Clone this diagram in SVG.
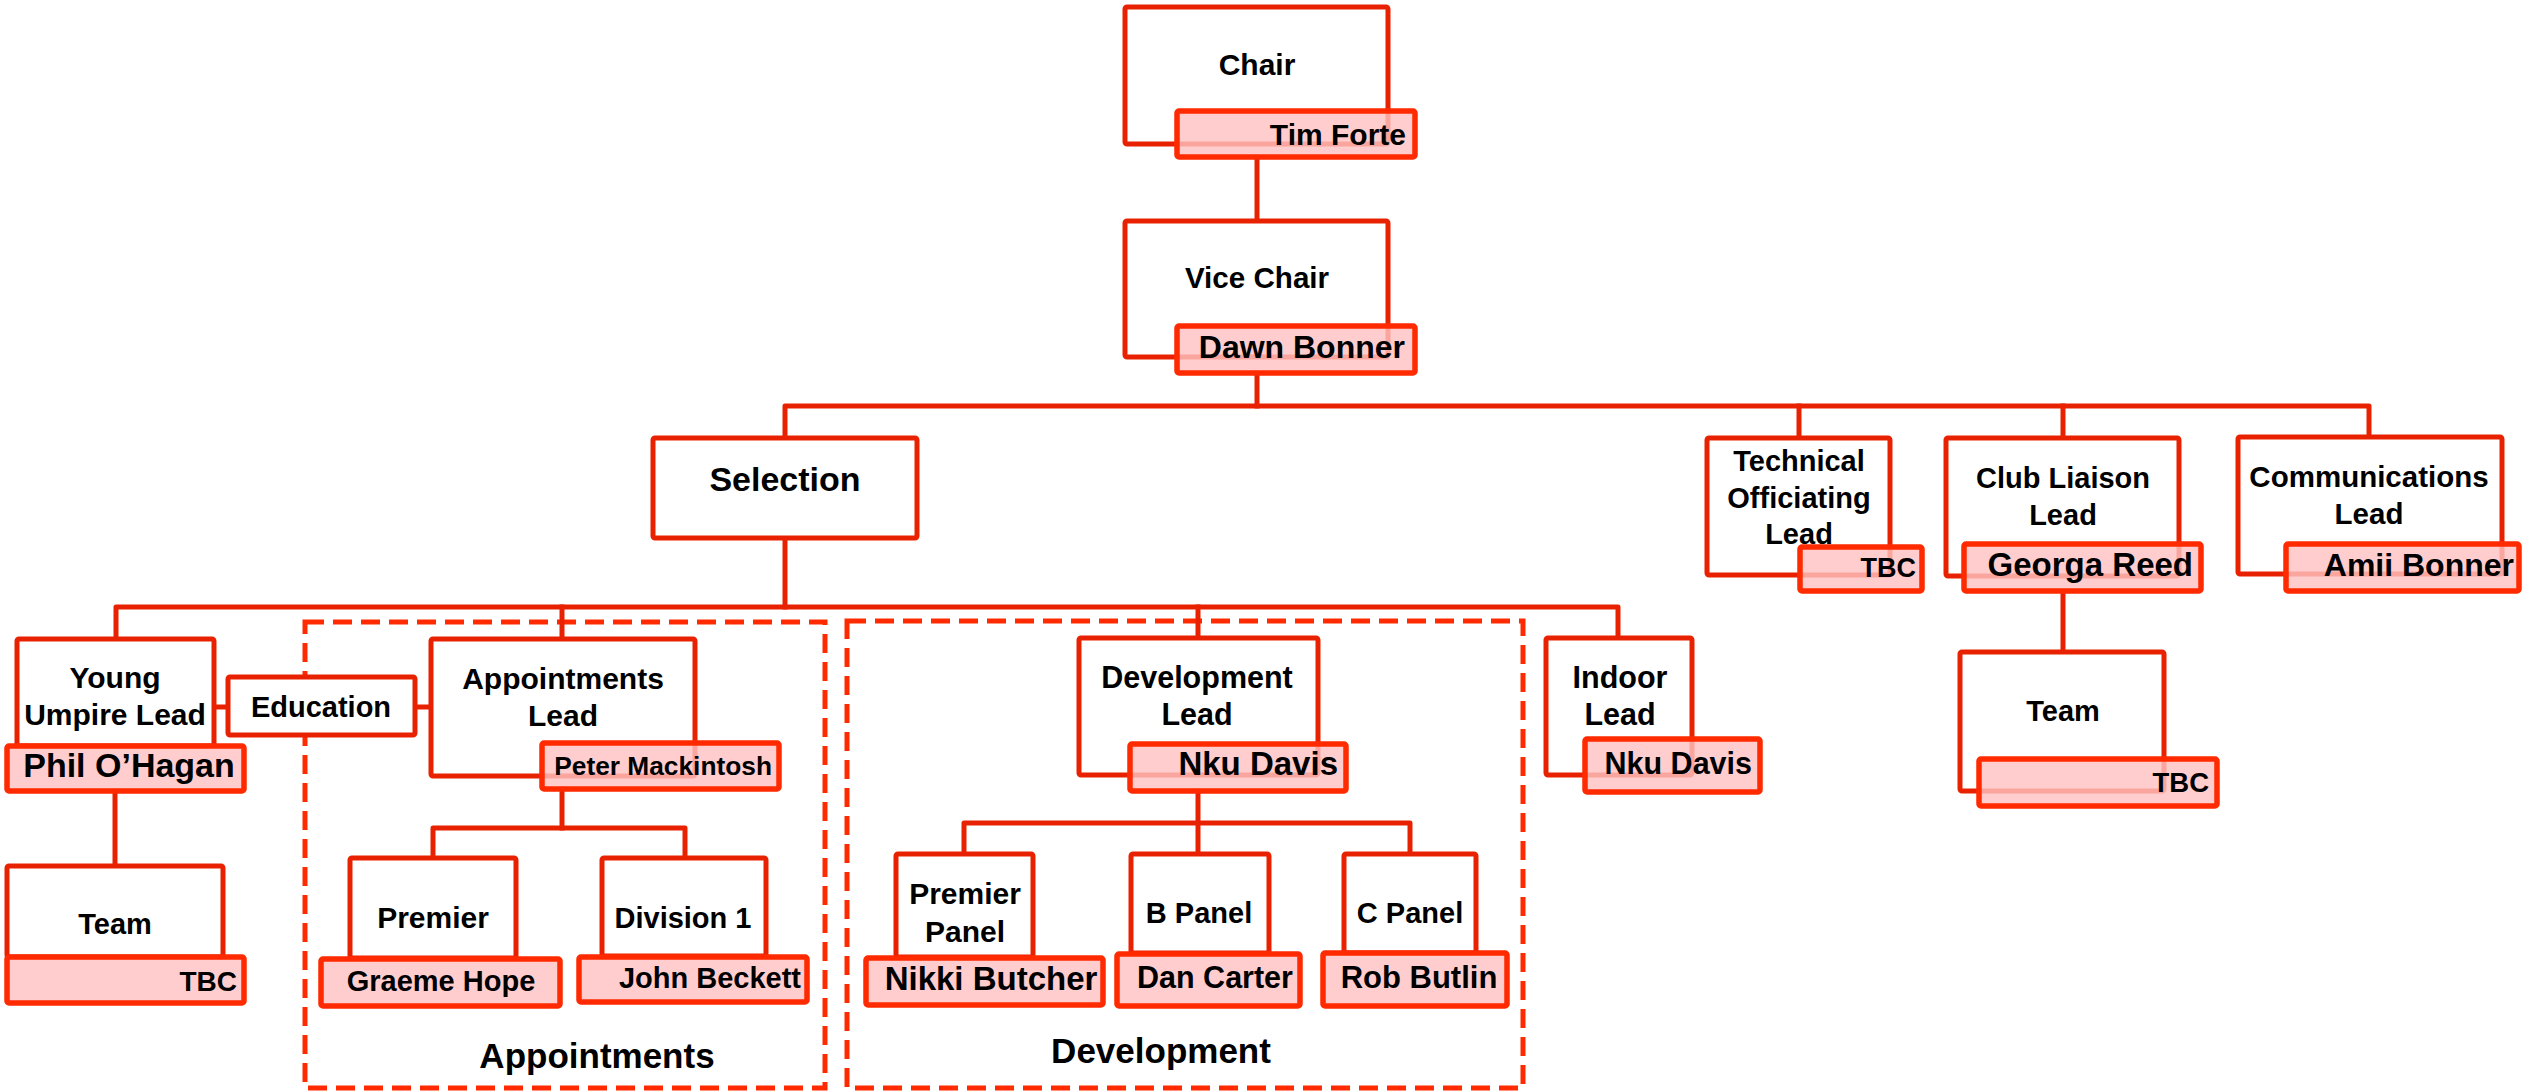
<svg xmlns="http://www.w3.org/2000/svg" width="2522" height="1092" viewBox="0 0 2522 1092">
<style>
.box{fill:#fff;stroke:#e82200;stroke-width:5;stroke-linejoin:round}
.nm{fill:#ffc2c2;fill-opacity:0.82;stroke:#ff2a00;stroke-width:5.5;stroke-linejoin:round}
.con{fill:none;stroke:#e82200;stroke-width:5;stroke-linejoin:round;stroke-linecap:square}
.grp{fill:none;stroke:#ff2a00;stroke-width:5;stroke-dasharray:19 9}
text{font-family:"Liberation Sans",Arial,sans-serif;font-weight:bold;fill:#000}
.c{text-anchor:middle}
.e{text-anchor:end}
</style>
<g id="groups">
<rect class="grp" x="305" y="622" width="520" height="466"/>
<rect class="grp" x="847" y="621" width="676" height="467"/>
<text class="c" x="597" y="1068" style="font-size:35px">Appointments</text>
<text class="c" x="1161" y="1063" style="font-size:35px">Development</text>
</g>
<g id="connectors">
<path class="con" d="M1257 157V221"/>
<path class="con" d="M1257 373V406"/>
<path class="con" d="M785 438V406H2369V437"/>
<path class="con" d="M1799 406V438M2063 406V438"/>
<path class="con" d="M785 538V607"/>
<path class="con" d="M116 639V607H1618V638"/>
<path class="con" d="M562 607V639M1198 607V638"/>
<path class="con" d="M115 791V866"/>
<path class="con" d="M214 707H228M415 707H431"/>
<path class="con" d="M2063 591V652"/>
<path class="con" d="M562 789V828"/>
<path class="con" d="M433 858V828H685V858"/>
<path class="con" d="M1198 791V854"/>
<path class="con" d="M964 854V823H1410V854"/>
</g>
<g id="chair">
<rect class="box" x="1125" y="7" width="263" height="137" rx="2"/>
<rect class="nm" x="1177" y="111" width="238" height="46" rx="2"/>
<text class="c" x="1257" y="75" style="font-size:30px">Chair</text>
<text class="e" x="1406" y="145" style="font-size:30px">Tim Forte</text>
</g>
<g id="vice-chair">
<rect class="box" x="1125" y="221" width="263" height="136" rx="2"/>
<rect class="nm" x="1177" y="326" width="238" height="47" rx="2"/>
<text class="c" x="1257" y="288" style="font-size:29.6px">Vice Chair</text>
<text class="e" x="1405" y="358" style="font-size:32px">Dawn Bonner</text>
</g>
<g id="selection">
<rect class="box" x="653" y="438" width="264" height="100" rx="2"/>
<text class="c" x="785" y="491" style="font-size:34px">Selection</text>
</g>
<g id="technical">
<rect class="box" x="1707" y="438" width="183" height="137" rx="2"/>
<rect class="nm" x="1800" y="547" width="122" height="44" rx="2"/>
<text class="c" x="1799" y="471" style="font-size:29px">Technical</text>
<text class="c" x="1799" y="508" style="font-size:29px">Officiating</text>
<text class="c" x="1799" y="544" style="font-size:29px">Lead</text>
<text class="e" x="1916" y="577" style="font-size:27px">TBC</text>
</g>
<g id="club-liaison">
<rect class="box" x="1946" y="438" width="233" height="138" rx="2"/>
<rect class="nm" x="1964" y="544" width="237" height="47" rx="2"/>
<text class="c" x="2063" y="488" style="font-size:29px">Club Liaison</text>
<text class="c" x="2063" y="525" style="font-size:29px">Lead</text>
<text class="e" x="2193" y="576" style="font-size:33px">Georga Reed</text>
</g>
<g id="communications">
<rect class="box" x="2238" y="437" width="264" height="137" rx="2"/>
<rect class="nm" x="2286" y="544" width="233" height="47" rx="2"/>
<text class="c" x="2369" y="487" style="font-size:29.5px">Communications</text>
<text class="c" x="2369" y="524" style="font-size:29.5px">Lead</text>
<text class="e" x="2514" y="576" style="font-size:32px">Amii Bonner</text>
</g>
<g id="club-team">
<rect class="box" x="1960" y="652" width="204" height="139" rx="2"/>
<rect class="nm" x="1979" y="759" width="238" height="47" rx="2"/>
<text class="c" x="2063" y="721" style="font-size:29px">Team</text>
<text class="e" x="2209" y="792" style="font-size:27.5px">TBC</text>
</g>
<g id="young-umpire">
<rect class="box" x="17" y="639" width="197" height="107" rx="2"/>
<rect class="nm" x="7" y="746" width="237" height="45" rx="2"/>
<text class="c" x="115" y="688" style="font-size:30px">Young</text>
<text class="c" x="115" y="725" style="font-size:30px">Umpire Lead</text>
<text class="c" x="129" y="777" style="font-size:34px">Phil O’Hagan</text>
</g>
<g id="education">
<rect class="box" x="228" y="677" width="187" height="58" rx="2"/>
<text class="c" x="321" y="717" style="font-size:29px">Education</text>
</g>
<g id="young-team">
<rect class="box" x="7" y="866" width="216" height="91" rx="2"/>
<rect class="nm" x="7" y="957" width="237" height="46" rx="2"/>
<text class="c" x="115" y="934" style="font-size:29px">Team</text>
<text class="e" x="237" y="991" style="font-size:28px">TBC</text>
</g>
<g id="appointments-lead">
<rect class="box" x="431" y="639" width="264" height="137" rx="2"/>
<rect class="nm" x="542" y="743" width="237" height="46" rx="2"/>
<text class="c" x="563" y="689" style="font-size:30px">Appointments</text>
<text class="c" x="563" y="726" style="font-size:30px">Lead</text>
<text class="e" x="772" y="775" style="font-size:26.3px">Peter Mackintosh</text>
</g>
<g id="premier">
<rect class="box" x="350" y="858" width="166" height="100" rx="2"/>
<rect class="nm" x="321" y="959" width="239" height="47" rx="2"/>
<text class="c" x="433" y="928" style="font-size:30px">Premier</text>
<text class="c" x="441" y="991" style="font-size:29px">Graeme Hope</text>
</g>
<g id="division-1">
<rect class="box" x="602" y="858" width="164" height="98" rx="2"/>
<rect class="nm" x="579" y="957" width="228" height="45" rx="2"/>
<text class="c" x="683" y="928" style="font-size:29px">Division 1</text>
<text class="e" x="801" y="988" style="font-size:29px">John Beckett</text>
</g>
<g id="development-lead">
<rect class="box" x="1079" y="638" width="239" height="137" rx="2"/>
<rect class="nm" x="1130" y="744" width="216" height="47" rx="2"/>
<text class="c" x="1197" y="688" style="font-size:30.5px">Development</text>
<text class="c" x="1197" y="725" style="font-size:30.5px">Lead</text>
<text class="e" x="1338" y="775" style="font-size:33px">Nku Davis</text>
</g>
<g id="premier-panel">
<rect class="box" x="896" y="854" width="137" height="103" rx="2"/>
<rect class="nm" x="866" y="958" width="237" height="47" rx="2"/>
<text class="c" x="965" y="904" style="font-size:30px">Premier</text>
<text class="c" x="965" y="942" style="font-size:30px">Panel</text>
<text class="c" x="991" y="990" style="font-size:33px">Nikki Butcher</text>
</g>
<g id="b-panel">
<rect class="box" x="1131" y="854" width="138" height="99" rx="2"/>
<rect class="nm" x="1117" y="954" width="183" height="52" rx="2"/>
<text class="c" x="1199" y="923" style="font-size:29px">B Panel</text>
<text class="c" x="1215" y="988" style="font-size:30.5px">Dan Carter</text>
</g>
<g id="c-panel">
<rect class="box" x="1344" y="854" width="132" height="99" rx="2"/>
<rect class="nm" x="1323" y="953" width="184" height="53" rx="2"/>
<text class="c" x="1410" y="923" style="font-size:29px">C Panel</text>
<text class="c" x="1419" y="988" style="font-size:31px">Rob Butlin</text>
</g>
<g id="indoor">
<rect class="box" x="1546" y="638" width="146" height="137" rx="2"/>
<rect class="nm" x="1585" y="739" width="175" height="53" rx="2"/>
<text class="c" x="1620" y="688" style="font-size:30.5px">Indoor</text>
<text class="c" x="1620" y="725" style="font-size:30.5px">Lead</text>
<text class="e" x="1752" y="774" style="font-size:30.5px">Nku Davis</text>
</g>
</svg>
